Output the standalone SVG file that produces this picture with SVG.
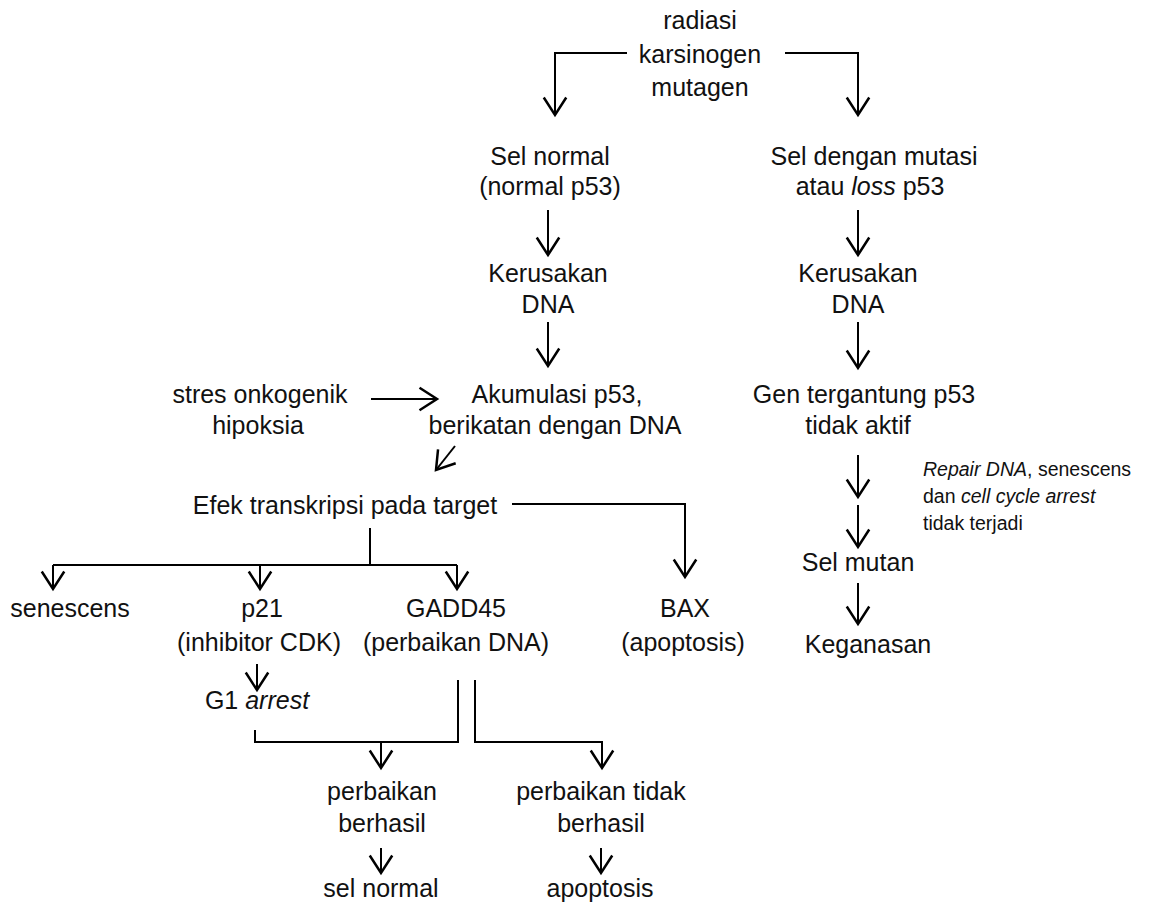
<svg xmlns="http://www.w3.org/2000/svg" width="1151" height="910" viewBox="0 0 1151 910">
<defs>
<marker id="ah" markerUnits="userSpaceOnUse" markerWidth="30" markerHeight="30" refX="0" refY="0" orient="auto" viewBox="-16 -12 20 24" overflow="visible">
<path d="M-14,-9 L0,0 L-14,9" fill="none" stroke="#000" stroke-width="2"/>
</marker>
<style>
text{font-family:"Liberation Sans",Arial,sans-serif;font-size:25px;fill:#111;text-anchor:middle}
.s{font-size:19.5px;text-anchor:start}
.c line,.c path{stroke:#000;stroke-width:2;fill:none}
.a{marker-end:url(#ah)}
</style>
</defs>
<rect width="1151" height="910" fill="#fff"/>
<g id="n-source"><text x="700" y="29">radiasi</text><text x="700" y="63">karsinogen</text><text x="700" y="96">mutagen</text></g>
<g id="n-selnormal"><text x="550" y="165">Sel normal</text><text x="550" y="195">(normal p53)</text></g>
<g id="n-selmutasi"><text x="874" y="165">Sel dengan mutasi</text><text x="870" y="195">atau <tspan font-style="italic">loss</tspan> p53</text></g>
<g id="n-kerusakan1"><text x="548" y="282">Kerusakan</text><text x="548" y="313">DNA</text></g>
<g id="n-kerusakan2"><text x="858" y="282">Kerusakan</text><text x="858" y="313">DNA</text></g>
<g id="n-stres"><text x="260" y="403">stres onkogenik</text><text x="258" y="434">hipoksia</text></g>
<g id="n-akumulasi"><text x="557" y="403">Akumulasi p53,</text><text x="555" y="434">berikatan dengan DNA</text></g>
<g id="n-gen"><text x="864" y="403">Gen tergantung p53</text><text x="858" y="434">tidak aktif</text></g>
<g id="n-note"><text class="s" x="923" y="476"><tspan font-style="italic">Repair DNA</tspan>, senescens</text><text class="s" x="923" y="503">dan <tspan font-style="italic">cell cycle arrest</tspan></text><text class="s" x="923" y="530">tidak terjadi</text></g>
<g id="n-selmutan"><text x="858" y="571">Sel mutan</text></g>
<g id="n-keganasan"><text x="868" y="653">Keganasan</text></g>
<g id="n-efek"><text x="345" y="514">Efek transkripsi pada target</text></g>
<g id="n-senescens"><text x="70" y="617">senescens</text></g>
<g id="n-p21"><text x="262" y="617">p21</text><text x="259" y="651">(inhibitor CDK)</text></g>
<g id="n-gadd45"><text x="456" y="617">GADD45</text><text x="456" y="651">(perbaikan DNA)</text></g>
<g id="n-bax"><text x="685" y="617">BAX</text><text x="683" y="651">(apoptosis)</text></g>
<g id="n-g1"><text x="257" y="709">G1 <tspan font-style="italic">arrest</tspan></text></g>
<g id="n-berhasil"><text x="382" y="800">perbaikan</text><text x="382" y="832">berhasil</text></g>
<g id="n-tidakberhasil"><text x="601" y="800">perbaikan tidak</text><text x="601" y="832">berhasil</text></g>
<g id="n-selnormal2"><text x="381" y="897">sel normal</text></g>
<g id="n-apoptosis"><text x="600" y="897">apoptosis</text></g>
<g id="connectors" class="c">
<path class="a" d="M627,53 H555 V115"/>
<path class="a" d="M785,53 H858 V115"/>
<line class="a" x1="548" y1="210" x2="548" y2="255"/>
<line class="a" x1="858" y1="210" x2="858" y2="255"/>
<line class="a" x1="548" y1="322" x2="548" y2="366"/>
<line class="a" x1="858" y1="322" x2="858" y2="368"/>
<line class="a" x1="371" y1="399" x2="437" y2="399"/>
<line class="a" x1="455" y1="446" x2="436" y2="470"/>
<line class="a" x1="858" y1="455" x2="858" y2="497"/>
<line class="a" x1="858" y1="505" x2="858" y2="547"/>
<line class="a" x1="858" y1="583" x2="858" y2="624"/>
<path class="a" d="M512,504 H685 V577"/>
<path d="M370,528 V565 M53,565 H457"/>
<line class="a" x1="53" y1="565" x2="53" y2="589"/>
<line class="a" x1="260" y1="565" x2="260" y2="589"/>
<line class="a" x1="457" y1="565" x2="457" y2="589"/>
<line class="a" x1="257" y1="664" x2="257" y2="690"/>
<path d="M255,730 V742 H458 V680"/>
<line class="a" x1="381" y1="742" x2="381" y2="768"/>
<path class="a" d="M475,680 V742 H602 V768"/>
<line class="a" x1="381" y1="848" x2="381" y2="873"/>
<line class="a" x1="601" y1="848" x2="601" y2="873"/>
</g>
</svg>
